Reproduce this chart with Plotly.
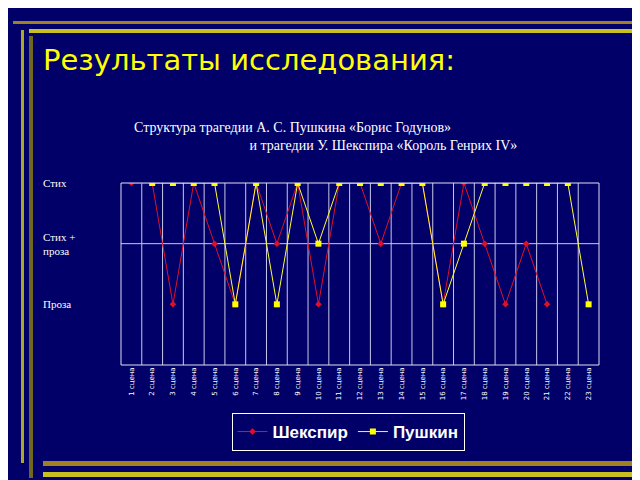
import plotly.graph_objects as go

scenes = [f"{i} сцена" for i in range(1, 24)]
# 3 = Стих, 2 = Стих + проза, 1 = Проза
shakespeare = [3, 3, 1, 3, 2, 1, 3, 2, 3, 1, 3, 3, 2, 3, 3, 1, 3, 2, 1, 2, 1, None, None]
pushkin = [None, 3, 3, 3, 3, 1, 3, 1, 3, 2, 3, 3, 3, 3, 3, 1, 2, 3, 3, 3, 3, 3, 1]
y_labels = ["Проза", "Стих +<br>проза", "Стих"]
y_levels = [1, 2, 3]

BG = "#000068"
x = list(range(1, 24))


def px(xp, yp):
    # slide pixel -> paper coords of the plot area
    return (xp - 113) / 478, (480 - yp - 123) / 182


fig = go.Figure()
fig.add_trace(go.Scatter(
    x=x, y=shakespeare, name="<b>Шекспир</b>", mode="lines+markers",
    line=dict(color="#e0102a", width=1),
    marker=dict(color="#e0102a", size=5, symbol="diamond"),
))
fig.add_trace(go.Scatter(
    x=x, y=pushkin, name="<b>Пушкин</b>", mode="lines+markers",
    line=dict(color="#ffff30", width=1),
    marker=dict(color="#ffff00", size=6, symbol="square"),
))

shapes = []
for k in range(1, 23):
    shapes.append(dict(type="line", xref="x", yref="paper", x0=k + 0.5, x1=k + 0.5,
                       y0=0, y1=1, line=dict(color="#c8c8e8", width=1), layer="below"))
shapes.append(dict(type="line", xref="paper", yref="y", x0=0, x1=1, y0=2, y1=2,
                   line=dict(color="#c8c8e8", width=1), layer="below"))
shapes.append(dict(type="rect", xref="paper", yref="paper", x0=0, x1=1, y0=0, y1=1,
                   line=dict(color="#e0e0f0", width=1)))
# decorative slide frame (slide pixels)
deco = [
    (5, 13, 640, 16, "#a08020"),
    (21, 21, 640, 25, "#c8c020"),
    (13, 22, 16, 455, "#b0a820"),
    (21, 28, 25, 470, "#706820"),
    (35, 453, 636, 458, "#a08020"),
    (35, 464, 624, 469, "#c8c020"),
]
for x0, y0, x1, y1, c in deco:
    a, b = px(x0, y0)
    cc, d = px(x1, y1)
    shapes.append(dict(type="rect", xref="paper", yref="paper", x0=a, x1=cc, y0=d, y1=b,
                       fillcolor=c, line=dict(width=0), layer="below"))

annotations = []
tx, ty = px(33, 52)
annotations.append(dict(text="Результаты исследования:", xref="paper", yref="paper",
                        x=tx, y=ty, xanchor="left", yanchor="middle", showarrow=False,
                        font=dict(family="DejaVu Sans", size=29, color="#ffff00")))
sx, sy = px(124, 128)
annotations.append(dict(
    text="Структура трагедии А. С. Пушкина «Борис Годунов»<br>"
         "                                 и трагедии У. Шекспира «Король Генрих IV»",
    xref="paper", yref="paper", x=sx, y=sy, xanchor="left", yanchor="middle",
    align="left", showarrow=False,
    font=dict(family="Liberation Serif", size=14, color="#ffffff")))
lx, _ = px(33, 0)
for lev, lab in zip(y_levels, y_labels):
    annotations.append(dict(text=lab, xref="paper", yref="y", x=lx, y=lev,
                            xanchor="left", yanchor="middle", align="left", showarrow=False,
                            font=dict(family="Liberation Serif", size=11, color="#ffffff")))

gx, gy = px(340, 424)
fig.update_layout(
    width=640, height=480,
    paper_bgcolor=BG, plot_bgcolor=BG,
    margin=dict(l=113, r=49, t=175, b=123, autoexpand=False),
    shapes=shapes, annotations=annotations,
    showlegend=True,
    legend=dict(orientation="h", x=gx, y=gy, xanchor="center", yanchor="middle",
                bordercolor="#ffffff", borderwidth=1, bgcolor=BG,
                font=dict(family="Liberation Sans", size=17, color="#ffffff")),
)
fig.update_xaxes(range=[0.5, 23.5], tickvals=x, ticktext=scenes, tickangle=-90,
                 showgrid=False, zeroline=False,
                 tickfont=dict(family="DejaVu Sans", size=7, color="#ffffff"))
fig.update_yaxes(range=[0, 3], showgrid=False, zeroline=False, showticklabels=False)

fig.write_html("out.html")
